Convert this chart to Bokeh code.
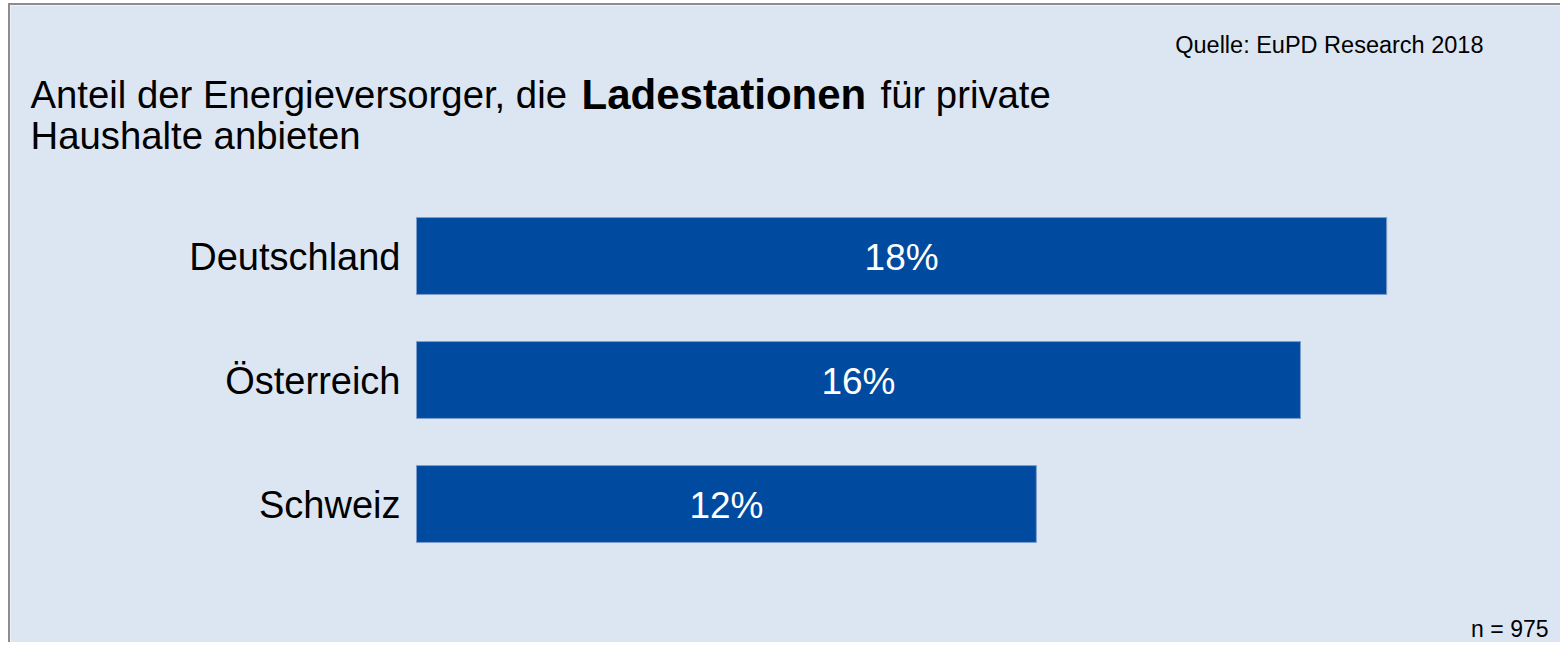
from bokeh.plotting import figure
from bokeh.models import ColumnDataSource, Range1d, Label
from bokeh.embed import file_html
from bokeh.resources import INLINE
from bokeh.core.properties import value

# ---- data ----
categories = ["Schweiz", "Österreich", "Deutschland"]
shares = [11.5, 16.4, 18.0]
share_labels = ["12%", "16%", "18%"]

title_part1 = "Anteil der Energieversorger, die"
title_bold = "Ladestationen"
title_part2 = "für private"
title_line2 = "Haushalte anbieten"
source_note = "Quelle: EuPD Research 2018"
sample_note = "n = 975"

BG = "#DCE6F2"
BAR = "#004B9F"
FONT = "Liberation Sans"

W, H = 1552, 639
PX_PER_PCT = 53.9      # horizontal scale
PX_PER_ROW = 124       # row pitch
BAR_LEFT = 406         # canvas px where 0 % lies
ROW0_Y = 498.5         # canvas px (from top) of first row centre

rows = list(range(len(categories)))
src = ColumnDataSource(dict(
    cat=categories,
    row=rows,
    val=shares,
    mid=[v / 2 for v in shares],
    lab=share_labels,
))

x_range = Range1d(-BAR_LEFT / PX_PER_PCT, (W - BAR_LEFT) / PX_PER_PCT)
y_range = Range1d(-(H - ROW0_Y) / PX_PER_ROW, ROW0_Y / PX_PER_ROW)

p = figure(width=W, height=H, x_range=x_range, y_range=y_range,
           output_backend="svg", toolbar_location=None,
           min_border_left=0, min_border_right=0,
           min_border_top=0, min_border_bottom=0)
p.styles = {"margin-left": "8px", "margin-top": "3px",
            "border-left": "2px solid #8c8c8c", "border-top": "2px solid #8c8c8c"}
p.background_fill_color = BG
p.border_fill_color = BG
p.outline_line_color = None
p.xgrid.visible = False
p.ygrid.visible = False
p.xaxis.visible = False
p.yaxis.visible = False
p.title.visible = False

p.hbar(y="row", left=0, right="val", height=0.62, source=src,
       fill_color=BAR, line_color="#7C9CCB", line_width=1)

# value labels inside bars
p.text(x="mid", y="row", text="lab", source=src,
       text_font=value(FONT), text_font_size="37px", text_color="white",
       text_align="center", text_baseline="middle", y_offset=1)

# category labels
p.text(x=0, y="row", text="cat", source=src,
       text_font=value(FONT), text_font_size="38px", text_color="black",
       text_align="right", text_baseline="middle", x_offset=-16, y_offset=1)


def lab(text, x, y_top, size, style="normal", align="left"):
    # y_top: baseline position measured from the canvas top
    p.add_layout(Label(x=x, y=H - y_top, x_units="screen", y_units="screen",
                       text=text, text_font=FONT, text_font_size=size,
                       text_font_style=style, text_align=align,
                       text_baseline="alphabetic", text_color="black"))


lab(title_part1, 20, 88.5, "38.3px")
lab(title_bold, 571, 88.5, "42px", style="bold")
lab(title_part2, 870, 88.5, "38.3px")
lab(title_line2, 20, 129.5, "38.3px")
lab(source_note, 1473, 39, "23.5px", align="right")
lab(sample_note, 1538, 623, "23px", align="right")

open("out.html", "w").write(file_html(p, INLINE))
